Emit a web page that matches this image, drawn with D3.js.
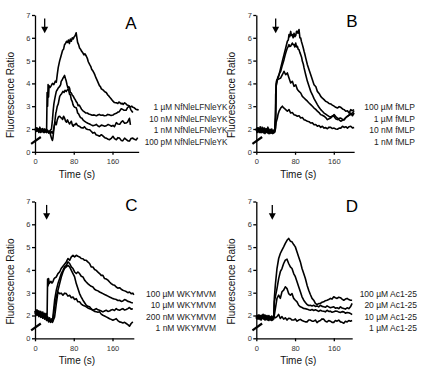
<!DOCTYPE html>
<html><head><meta charset="utf-8">
<script src="https://cdn.jsdelivr.net/npm/d3@7"></script>
<style>body{margin:0;background:#fff} svg{display:block} text{font-family:"Liberation Sans",Arial,sans-serif}</style>
</head><body><svg id="c" width="434" height="378"></svg>
<script>
// ---------- data ----------
const xTickValues = [0, 80, 160];
const xTickLabels = ["0", "80", "160"];
const yTickValues = [1, 2, 3, 4, 5, 6, 7];
const yTickLabels = ["0", "2", "3", "4", "5", "6", "7"];
const xTitle = "Time (s)";
const yTitle = "Fluorescence Ratio";

const aLabels = ["1 µM NfNleLFNleYK", "10 nM NfNleLFNleYK", "1 nM NfNleLFNleYK", "100 pM NfNleLFNleYK"];
const bLabels = ["100 µM fMLP", "1 µM fMLP", "10 nM fMLP", "1 nM fMLP"];
const cLabels = ["100 µM WKYMVM", "10 µM WKYMVM", "200 nM WKYMVM", "1 nM WKYMVM"];
const dLabels = ["100 µM Ac1-25", "20 µM Ac1-25", "10 µM Ac1-25", "1 µM Ac1-25"];
const stimTimes = [20, 40, 24, 33];

const A1 = [[0,2.02],[2,1.95],[4,2.05],[6,1.92],[8,2.0],[10,1.88],[12,1.98],[14,1.9],[16,2.02],[18,1.92],[20,1.98],[22,1.9],[24,2.0],[25,3.6],[26,3.0],[27,3.95],[28,3.4],[29,3.9],[31,3.82],[33,3.88],[36,4.0],[39,3.95],[42,4.1],[44,4.05],[46,4.4],[48,4.7],[51,5.0],[53,5.15],[55,5.3],[57,5.45],[59,5.5],[61,5.7],[63,5.75],[65,5.85],[67,5.8],[69,5.9],[71,5.75],[73,5.95],[75,5.85],[77,6.0],[79,5.95],[81,6.05],[83,6.1],[85,6.22],[86.5,6.0],[88,5.8],[90,5.7],[92,5.55],[94,5.5],[96,5.42],[99,5.33],[101,5.25],[103,5.3],[106,5.19],[108,5.1],[110,4.95],[113,4.82],[115,4.75],[117,4.62],[120,4.53],[122,4.45],[124,4.35],[126,4.24],[129,4.1],[131,4.0],[133,3.9],[135,3.86],[137,3.76],[140,3.72],[142,3.68],[144,3.63],[147,3.6],[150,3.5],[152,3.46],[154,3.4],[157,3.33],[159,3.27],[161,3.22],[164,3.16],[166,3.15],[168,3.15],[171,3.12],[173,3.18],[175,3.16],[178,3.1],[180,3.13],[182,3.08],[185,3.15],[188,3.1],[190,3.05],[193,3.03],[195,3.0],[198,2.97],[200,3.0],[202,2.95],[205,2.93],[208,2.87],[211,2.85],[214,2.83]];
const A2 = [[0,1.95],[3,1.9],[5,2.0],[8,1.85],[10,1.95],[13,1.88],[15,2.0],[18,1.85],[20,1.95],[23,1.85],[26,1.92],[29,1.85],[32,1.95],[34,2.0],[36,2.4],[37.5,2.8],[39,3.1],[40.5,3.29],[42,3.45],[44,3.65],[46,3.72],[48,3.8],[51,3.87],[53,3.95],[54,4.09],[56,4.15],[58,4.24],[60,4.3],[61,4.35],[63,4.2],[64.6,4.09],[66,3.95],[68,3.8],[70,3.85],[71.5,3.78],[73,3.6],[75,3.58],[77,3.48],[79,3.44],[81,3.35],[83,3.29],[85,3.2],[87,3.15],[89,3.02],[91,3.05],[92,3.03],[94,2.95],[96,2.87],[99,2.8],[102,2.75],[105,2.7],[108,2.7],[111,2.66],[113,2.65],[116,2.62],[119,2.6],[122,2.62],[125,2.59],[127,2.58],[130,2.62],[133,2.64],[136,2.6],[140,2.61],[143,2.58],[147,2.59],[150,2.64],[154,2.62],[157,2.59],[161,2.61],[164,2.66],[168,2.69],[171,2.74],[174,2.76],[178,2.89],[181,2.86],[184,2.82],[188,2.82],[191,2.94],[195,3.0],[198,2.84],[200,2.78],[202,2.72]];
const A3 = [[0,2.0],[3,1.92],[5,1.98],[8,1.9],[10,2.0],[12,1.85],[15,1.95],[17,1.88],[20,2.0],[22,1.9],[25,1.95],[28,1.85],[30,1.9],[32,1.75],[34,1.6],[36,1.5],[37,1.6],[39,2.0],[41,2.34],[43,2.7],[44,2.78],[46,3.0],[48,3.1],[51,3.43],[53,3.5],[55,3.55],[57.7,3.65],[60,3.6],[62,3.7],[64.6,3.65],[67,3.72],[69,3.75],[71.5,3.51],[73,3.5],[75,3.29],[77,3.2],[78.4,3.07],[80,3.0],[82,2.95],[85,2.93],[87,2.8],[88,2.7],[90,2.66],[92,2.58],[94,2.5],[97,2.47],[99,2.4],[102,2.35],[105.8,2.29],[109,2.25],[112.7,2.22],[116,2.18],[119.6,2.14],[123,2.16],[126.5,2.2],[130,2.13],[133,2.1],[137,2.17],[140,2.15],[144,2.12],[147,2.14],[151,2.2],[154,2.17],[158,2.12],[161,2.16],[164,2.1],[168,2.28],[171,2.22],[175,2.21],[178,2.3],[181,2.36],[185,2.25],[188,2.26],[191,2.3],[195,2.47],[197,2.18]];
const A4 = [[0,1.95],[2,2.05],[4,1.9],[6,2.0],[8,1.95],[10,2.08],[12,1.92],[14,2.0],[16,1.88],[18,1.95],[20,1.85],[22,1.98],[24,1.85],[26,1.95],[28,1.82],[30,1.9],[32,1.8],[34,1.88],[36,1.82],[38,1.95],[40,2.15],[42,2.3],[44,2.19],[46,2.4],[47.4,2.48],[49,2.55],[51,2.56],[53,2.5],[55,2.48],[57,2.42],[59,2.56],[61,2.48],[63,2.35],[65,2.3],[67,2.4],[69,2.3],[71.5,2.22],[73,2.28],[75,2.34],[77,2.18],[79,2.12],[81,2.2],[83,2.19],[85,2.25],[88,2.15],[92,2.11],[95,2.06],[99,2.04],[102,2.1],[106,2.0],[109,1.98],[113,1.97],[116,1.9],[119.6,1.82],[123,1.85],[126,1.75],[130,1.72],[133,1.68],[137,1.75],[140,1.7],[144,1.62],[147,1.6],[151,1.55],[154,1.53],[158,1.6],[161,1.68],[164,1.58],[168,1.53],[171,1.62],[174.6,1.6],[178,1.5],[181,1.48],[185,1.6],[188,1.55],[192,1.48],[195,1.47],[198,1.58],[202,1.6],[205,1.55],[209,1.52],[212,1.62]];

const B1 = [[0,2.0],[2,1.85],[4,2.05],[6,1.9],[8,2.1],[10,1.85],[12,2.0],[14,1.88],[16,2.05],[18,1.85],[20,1.98],[22,1.9],[24,2.08],[26,1.85],[28,1.95],[30,1.82],[32,2.0],[34,1.85],[36,1.95],[38,1.9],[39.5,2.2],[40.5,3.5],[41.5,4.09],[43.5,4.2],[45,4.3],[47,4.38],[50.4,4.68],[53.8,4.97],[57.2,5.26],[60.7,5.55],[64.1,5.85],[66,5.9],[67.5,6.14],[69,6.05],[71,6.28],[72.5,6.1],[74.4,6.14],[76,6.0],[77.9,6.2],[79.5,6.05],[81.4,6.1],[83,6.28],[84.8,6.28],[86,6.2],[88.2,6.36],[90,6.0],[91.7,5.99],[93,5.85],[95.1,5.7],[97,5.55],[98.6,5.41],[100,5.3],[102,5.12],[105.5,4.82],[108.9,4.6],[112.4,4.38],[115.8,4.16],[119.2,3.94],[123,3.85],[126.1,3.65],[130,3.55],[133,3.43],[136.5,3.35],[139.9,3.29],[143,3.22],[146.8,3.18],[150,3.12],[153.7,3.1],[157,3.05],[160.6,3.0],[164,2.95],[167.5,2.92],[171,2.98],[174.4,2.95],[178,2.88],[181.3,2.85],[184.8,2.78],[188.2,2.8],[191.6,2.7],[195,2.85],[198,2.8],[202,2.85]];
const B2 = [[0,1.9],[2,2.05],[4,1.88],[6,2.0],[8,1.85],[10,1.95],[12,2.08],[14,1.85],[16,1.95],[18,2.02],[20,1.85],[22,1.95],[24,1.82],[26,2.0],[28,1.88],[30,1.95],[32,1.85],[34,1.9],[36,1.82],[38,1.95],[40,2.6],[41,3.9],[43.5,4.16],[46,4.3],[48,4.45],[50.4,4.53],[53.8,4.8],[57.2,5.04],[59,5.2],[60.7,5.33],[62.5,5.45],[64.1,5.55],[65.5,5.6],[67.5,5.7],[69,5.62],[71,5.63],[72.5,5.7],[74.4,5.77],[76,5.7],[77.9,5.7],[79.5,5.6],[81.4,5.77],[83,5.6],[84.8,5.63],[86.5,5.5],[88.2,5.48],[90,5.35],[91.7,5.26],[93.5,5.15],[95.1,4.97],[97,4.85],[98.6,4.68],[102,4.38],[105.5,4.09],[108.9,3.87],[112.4,3.65],[115.8,3.5],[119.2,3.33],[122.7,3.2],[126.1,3.07],[129.5,2.95],[133,2.85],[136.4,2.78],[139.9,2.7],[143.3,2.65],[146.8,2.6],[150.2,2.55],[153.7,2.52],[157,2.58],[160.6,2.55],[164,2.45],[167.5,2.41],[171,2.47],[174.4,2.48],[178,2.42],[181.3,2.41],[184.8,2.5],[188.2,2.55],[191.6,2.62],[195,2.7],[198.5,2.58],[202,2.7]];
const B3 = [[0,2.05],[2,1.9],[4,1.98],[6,1.85],[8,2.0],[10,1.92],[12,1.85],[14,2.02],[16,1.9],[18,1.8],[20,2.0],[22,1.85],[24,1.95],[26,1.8],[28,1.9],[30,1.98],[32,1.82],[34,1.92],[36,1.85],[38,1.95],[39.5,2.5],[40,3.5],[41.5,4.0],[43.5,4.16],[47,4.2],[50.4,4.24],[53.8,4.38],[57.2,4.53],[60.7,4.38],[64.1,4.46],[67.5,4.24],[71,4.02],[74.4,4.09],[77.9,3.87],[81.4,3.94],[84.8,3.73],[88.2,3.65],[91.7,3.58],[95.1,3.43],[98.6,3.36],[102,3.29],[105.5,3.22],[108.9,3.14],[112.4,3.07],[115.8,3.0],[119.2,2.92],[122.7,2.86],[126.1,2.78],[129.5,2.72],[133,2.63],[136.4,2.6],[139.9,2.56],[143.3,2.5],[146.8,2.41],[150.2,2.45],[153.7,2.48],[157,2.55],[160.6,2.63],[164,2.55],[167.5,2.48],[171,2.4],[174.4,2.34],[178,2.38],[181.3,2.41],[184.8,2.5],[188.2,2.56],[191.6,2.6],[195,2.63],[198.5,2.7],[202,2.78]];
const B4 = [[0,2.0],[2,1.88],[4,2.02],[6,1.9],[8,1.95],[10,1.85],[12,2.0],[14,1.9],[16,1.82],[18,1.95],[20,1.88],[22,2.02],[24,1.85],[26,1.92],[28,1.8],[30,1.95],[32,1.88],[34,1.8],[36,1.92],[38,1.85],[40,2.05],[41,2.3],[43.5,2.48],[45,2.65],[47,2.78],[50.4,2.92],[53.8,3.0],[55.5,2.95],[57.2,2.92],[60.7,2.85],[64.1,2.78],[67.5,2.85],[71,2.7],[74.4,2.72],[77.9,2.63],[81.4,2.6],[84.8,2.56],[88.2,2.58],[91.7,2.48],[95.1,2.5],[98.6,2.41],[102,2.38],[105.5,2.34],[108.9,2.32],[112.4,2.26],[115.8,2.27],[119.2,2.19],[122.7,2.2],[126.1,2.12],[129.5,2.15],[133,2.07],[136.4,2.12],[139.9,2.04],[143.3,2.06],[146.8,2.01],[150.2,2.08],[153.7,2.07],[157,2.02],[160.6,2.04],[164,2.0],[167.5,1.99],[171,2.04],[174.4,2.04],[178,2.12],[181.3,2.07],[184.8,2.1],[188.2,2.04],[191.6,2.1],[195,2.12],[198.5,2.05],[202,2.07]];

const C1 = [[0,2.2],[2,2.1],[4,2.25],[6,2.15],[8,2.2],[10,2.08],[12,2.18],[14,2.05],[16,2.15],[18,2.0],[20,2.1],[22,1.95],[24,2.1],[25,2.0],[26,3.6],[27,3.3],[28,3.62],[29.5,3.4],[31,3.45],[33,3.5],[35,3.42],[37,3.48],[39,3.6],[41,3.65],[44,3.69],[47.4,3.84],[50.9,3.91],[54,4.06],[57.7,4.16],[61,4.25],[64.6,4.35],[68,4.5],[71.5,4.42],[75,4.57],[78.4,4.64],[81.8,4.57],[85.2,4.64],[88.6,4.6],[92,4.57],[95.5,4.5],[99,4.49],[102.4,4.42],[105.8,4.42],[109,4.35],[112.7,4.28],[116,4.13],[119.6,4.13],[123,4.02],[126.5,3.98],[130,3.9],[133.3,3.84],[136.7,3.76],[140.2,3.76],[143.6,3.62],[147,3.6],[150.5,3.55],[154,3.47],[157.3,3.4],[160.8,3.35],[164,3.33],[167.7,3.25],[171,3.2],[174.6,3.22],[178,3.15],[181.4,3.11],[185,3.08],[188.3,3.05],[191.7,3.0],[195,3.03],[198.5,2.96],[202,2.98],[204,2.9]];
const C2 = [[0,2.15],[2,2.22],[4,2.1],[6,2.2],[8,2.05],[10,2.15],[12,2.0],[14,2.12],[16,1.95],[18,2.08],[20,1.9],[22,2.05],[24,1.85],[26,1.95],[28,1.8],[30,1.9],[32,1.78],[34,1.85],[36,1.8],[37,1.94],[40.5,2.67],[44,3.11],[47.4,3.4],[50.9,3.62],[54.3,3.84],[57.7,3.98],[61,4.13],[64.6,4.2],[68,4.35],[71.5,4.28],[75,4.13],[78.4,4.06],[81.8,3.91],[85.2,3.84],[88.6,3.91],[92,3.84],[95.5,3.72],[99,3.69],[102.4,3.55],[105.8,3.47],[109,3.4],[112.7,3.33],[116,3.28],[119.6,3.25],[123,3.15],[126.5,3.11],[130,3.08],[133.3,3.03],[136.7,3.0],[140.2,2.96],[143.6,2.92],[147,2.89],[150.5,2.85],[154,2.81],[157.3,2.78],[160.8,2.74],[164,2.72],[167.7,2.7],[171,2.66],[174.6,2.67],[178,2.62],[181.4,2.64],[185,2.7],[188.3,2.67],[191.7,2.62],[195,2.6],[198.5,2.57],[202,2.55]];
const C3 = [[0,2.1],[2,2.18],[4,2.05],[6,2.15],[8,2.0],[10,2.1],[12,1.95],[14,2.05],[16,1.9],[18,2.0],[20,1.85],[22,1.95],[24,1.8],[26,1.9],[28,1.75],[30,1.85],[32,1.72],[34,1.8],[36,1.7],[37,1.79],[40.5,2.38],[44,2.81],[47.4,3.11],[50.9,3.4],[54.3,3.69],[57.7,3.91],[61,4.06],[64.6,4.13],[68,4.2],[71.5,4.13],[75,3.98],[78.4,3.84],[81.8,3.69],[85.2,3.4],[88.6,3.18],[92,2.96],[95.5,2.81],[99,2.67],[102.4,2.56],[105.8,2.45],[109,2.4],[112.7,2.38],[116,2.3],[119.6,2.23],[123,2.26],[126.5,2.3],[130,2.25],[133.3,2.23],[136.7,2.2],[140.2,2.16],[143.6,2.2],[147,2.23],[150.5,2.18],[154,2.2],[157.3,2.24],[160.8,2.26],[164,2.22],[167.7,2.3],[171,2.25],[174.6,2.23],[178,2.27],[181.4,2.3],[185,2.24],[188.3,2.26],[191.7,2.3],[195,2.35],[198.5,2.28],[202,2.3]];
const C4 = [[0,2.05],[2,2.15],[4,2.0],[6,2.1],[8,1.95],[10,2.05],[12,1.92],[14,2.0],[16,1.88],[18,1.98],[20,1.85],[22,1.92],[24,1.78],[26,1.88],[28,1.72],[30,1.82],[32,1.7],[34,1.78],[36,1.72],[38,1.8],[40.5,1.94],[44,2.52],[47.4,3.03],[50.9,2.96],[54.3,2.98],[57.7,2.89],[61,2.98],[64.6,2.96],[68,2.85],[71.5,2.89],[75,2.78],[78.4,2.81],[81.8,2.7],[85.2,2.74],[88.6,2.6],[92,2.6],[95.5,2.5],[99,2.45],[102.4,2.42],[105.8,2.38],[109,2.33],[112.7,2.3],[116,2.27],[119.6,2.23],[123,2.18],[126.5,2.16],[130,2.14],[133.3,2.16],[136.7,2.06],[140.2,2.01],[143.6,1.98],[147,1.94],[150.5,1.9],[154,1.86],[157.3,1.83],[160.8,1.79],[164,1.82],[167.7,1.86],[171,1.78],[174.6,1.72],[178,1.7],[181.4,1.67],[185,1.7],[188.3,1.65],[191.7,1.6],[195,1.53],[198.5,1.65],[202,1.72]];

const D1 = [[0,1.95],[2,1.85],[4,2.02],[6,1.9],[8,2.0],[10,1.85],[12,1.95],[14,1.88],[16,2.02],[18,1.9],[20,1.82],[22,1.98],[24,1.85],[26,2.0],[28,1.88],[30,1.95],[32,1.82],[34,1.92],[36,1.9],[37.2,2.75],[39.3,3.33],[42.7,4.06],[46.2,4.5],[49.6,4.72],[53,4.87],[56.5,5.01],[59.9,5.16],[63.4,5.3],[66.8,5.38],[70.3,5.26],[73.7,5.23],[77.2,5.11],[80.6,5.01],[84.1,4.79],[87.5,4.57],[91,4.35],[94.4,4.06],[97.9,3.84],[101.3,3.62],[104.8,3.33],[108.2,3.11],[111.6,2.92],[115.1,2.75],[118.5,2.67],[122,2.53],[125.4,2.48],[128.8,2.52],[132.3,2.53],[135.7,2.58],[139.2,2.6],[142.6,2.65],[146.1,2.67],[149.5,2.7],[153,2.75],[156.4,2.72],[159.9,2.82],[163.3,2.78],[166.8,2.75],[170.2,2.8],[173.7,2.78],[177.1,2.72],[180.6,2.67],[184,2.72],[187.5,2.75],[191,2.7],[194.4,2.67],[197.8,2.67]];
const D2 = [[0,1.9],[2,2.0],[4,1.85],[6,1.95],[8,1.82],[10,2.0],[12,1.88],[14,1.95],[16,1.85],[18,2.02],[20,1.9],[22,1.82],[24,1.95],[26,1.85],[28,1.9],[30,1.8],[32,1.95],[34,1.85],[36,1.92],[37.2,2.6],[42.7,3.18],[46.2,3.62],[49.6,3.92],[53,4.06],[56.5,4.28],[59.9,4.43],[63.4,4.47],[66.8,4.28],[70.3,4.13],[73.7,4.06],[77.2,3.84],[80.6,3.7],[84.1,3.48],[87.5,3.26],[91,3.04],[94.4,2.82],[97.9,2.67],[101.3,2.57],[104.8,2.48],[108.2,2.44],[111.6,2.45],[115.1,2.42],[118.5,2.45],[122,2.4],[125.4,2.42],[128.8,2.38],[132.3,2.45],[135.7,2.4],[139.2,2.38],[142.6,2.36],[146.1,2.42],[149.5,2.38],[153,2.34],[156.4,2.36],[159.9,2.38],[163.3,2.32],[166.8,2.34],[170.2,2.3],[173.7,2.38],[177.1,2.33],[180.6,2.31],[184,2.28],[187.5,2.34],[191,2.3],[194.4,2.38],[197.8,2.53]];
const D3 = [[0,2.0],[2,1.88],[4,1.98],[6,1.85],[8,1.95],[10,1.9],[12,2.02],[14,1.85],[16,1.92],[18,1.8],[20,1.95],[22,1.88],[24,1.8],[26,1.95],[28,1.82],[30,1.9],[32,1.78],[34,1.88],[36,1.85],[37.2,2.01],[42.7,2.75],[46.2,2.89],[49.6,2.75],[53,3.04],[56.5,3.11],[59.9,3.26],[63.4,3.18],[66.8,2.96],[70.3,2.89],[73.7,2.96],[77.2,2.75],[80.6,2.67],[84.1,2.6],[87.5,2.45],[91,2.38],[94.4,2.35],[97.9,2.31],[101.3,2.3],[104.8,2.28],[108.2,2.25],[111.6,2.23],[115.1,2.26],[118.5,2.22],[122,2.25],[125.4,2.22],[128.8,2.18],[132.3,2.23],[135.7,2.2],[139.2,2.19],[142.6,2.16],[146.1,2.23],[149.5,2.18],[153,2.19],[156.4,2.14],[159.9,2.16],[163.3,2.2],[166.8,2.19],[170.2,2.15],[173.7,2.13],[177.1,2.17],[180.6,2.16],[184,2.1],[187.5,2.13],[191,2.12],[194.4,2.09],[197.8,2.04]];
const D4 = [[0,1.85],[2,1.98],[4,1.88],[6,2.02],[8,1.9],[10,1.8],[12,1.95],[14,2.05],[16,1.85],[18,1.95],[20,1.88],[22,2.0],[24,1.85],[26,1.78],[28,1.92],[30,1.85],[32,1.98],[34,1.8],[36,1.95],[39.3,1.9],[42.7,1.95],[46,2.05],[49.6,1.87],[53,1.95],[56.5,1.84],[59.9,1.9],[63.4,1.8],[66.8,1.88],[70.3,1.87],[73.7,1.8],[77.2,1.8],[80.6,1.85],[84.1,1.75],[87.5,1.8],[91,1.83],[94.4,1.78],[97.9,1.75],[101.3,1.72],[104.8,1.72],[108.2,1.8],[111.6,1.8],[115.1,1.75],[118.5,1.75],[122,1.8],[125.4,1.69],[128.8,1.75],[132.3,1.78],[135.7,1.85],[139.2,1.84],[142.6,1.75],[146.1,1.72],[149.5,1.78],[153,1.75],[156.4,1.7],[159.9,1.7],[163.3,1.78],[166.8,1.75],[170.2,1.8],[173.7,1.72],[177.1,1.7],[180.6,1.66],[184,1.75],[187.5,1.72],[191,1.78],[194.4,1.75],[197.8,1.78]];

// ---------- layout ----------
const PX_PER_S = 38.75 / 80;
const PLOT_H = 136.8;
const panels = [
  {letter:"A", left:35,    top:15,    xMax:214, series:[A1,A2,A3,A4], labels:aLabels, stim:stimTimes[0], legendX:227.5, legendSize:8.2, letterX:131, letterY:29},
  {letter:"B", left:256.3, top:15,    xMax:202, series:[B1,B2,B3,B4], labels:bLabels, stim:stimTimes[1], legendX:415,   legendSize:8.5, letterX:352, letterY:27},
  {letter:"C", left:35,    top:201.5, xMax:204, series:[C1,C2,C3,C4], labels:cLabels, stim:stimTimes[2], legendX:216,   legendSize:8.5, letterX:131.5, letterY:211},
  {letter:"D", left:256.3, top:201.5, xMax:198, series:[D1,D2,D3,D4], labels:dLabels, stim:stimTimes[3], legendX:417,   legendSize:8.5, letterX:352, letterY:212}
];

const svg = d3.select("#c");
const FONT = '"Liberation Sans", Arial, sans-serif';

panels.forEach(p => {
  const x = d3.scaleLinear().domain([0, p.xMax]).range([p.left, p.left + p.xMax * PX_PER_S]);
  const y = d3.scaleLinear().domain([1, 7]).range([p.top + PLOT_H, p.top]);
  const g = svg.append("g");

  const line = d3.line().x(d => x(d[0])).y(d => y(d[1]));
  p.series.forEach(s => {
    g.append("path").attr("d", line(s)).attr("fill", "none")
      .attr("stroke", "#000").attr("stroke-width", 1.6).attr("stroke-linejoin", "round");
  });

  // axes
  const ya = d3.axisLeft(y).tickValues(yTickValues).tickFormat((d, i) => yTickLabels[i])
    .tickSize(3).tickSizeOuter(0).tickPadding(1.5);
  const yg = g.append("g").attr("transform", `translate(${p.left},0)`).call(ya);
  const xa = d3.axisBottom(x).tickValues(xTickValues).tickFormat((d, i) => xTickLabels[i])
    .tickSize(3).tickSizeOuter(0).tickPadding(4);
  const xg = g.append("g").attr("transform", `translate(0,${y(1)})`).call(xa);
  [yg, xg].forEach(a => {
    a.attr("font-family", FONT).attr("font-size", 7.5);
    a.selectAll("path, line").attr("stroke", "#000").attr("stroke-width", 1.3);
    a.selectAll("text").attr("fill", "#333");
  });

  // axis break mark
  g.append("line").attr("x1", x(-8)).attr("y1", y(1.35)).attr("x2", x(12)).attr("y2", y(1.65))
    .attr("stroke", "#000").attr("stroke-width", 2.2);

  // stimulus arrow
  const ax = x(p.stim);
  g.append("line").attr("x1", ax).attr("x2", ax).attr("y1", y(6.85)).attr("y2", y(6.45))
    .attr("stroke", "#000").attr("stroke-width", 1.3);
  g.append("path").attr("d", `M${ax-3.5},${y(6.48)} L${ax+3.5},${y(6.48)} L${ax},${y(6.2)} Z`).attr("fill", "#000");

  // titles
  g.append("text").attr("x", p.left + 42).attr("y", p.top + PLOT_H + 26)
    .attr("text-anchor", "middle").attr("font-size", 10).attr("fill", "#111").text(xTitle);
  g.append("text").attr("transform", `translate(${p.left - 21},${p.top + 80}) rotate(-90)`)
    .attr("text-anchor", "middle").attr("font-size", 10).attr("fill", "#111").text(yTitle);

  // panel letter
  g.append("text").attr("x", p.letterX).attr("y", p.letterY).attr("text-anchor", "middle")
    .attr("font-size", 17).attr("fill", "#000").text(p.letter);

  // legend
  p.labels.forEach((t, i) => {
    g.append("text").attr("x", p.legendX).attr("y", p.top + 95 + i * 11.5)
      .attr("text-anchor", "end").attr("font-size", p.legendSize).attr("fill", "#222").text(t);
  });
});
</script></body></html>
